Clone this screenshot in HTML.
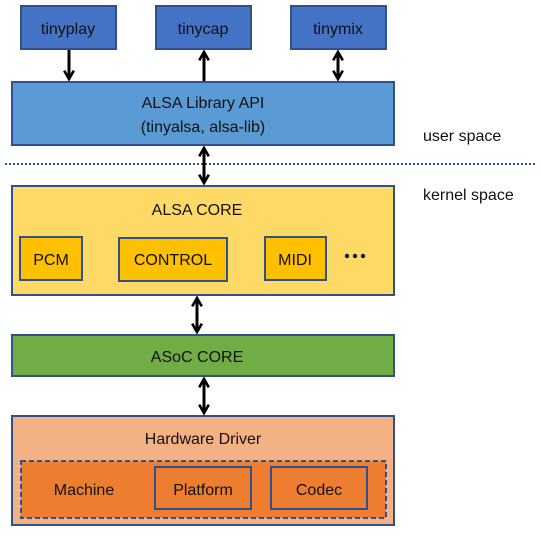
<!DOCTYPE html>
<html><head><meta charset="utf-8"><style>
body{margin:0;background:#fff;}
svg text{font-family:"Liberation Sans",sans-serif;font-size:16px;fill:#111;text-anchor:middle;}
</style></head><body>
<svg width="541" height="531" viewBox="0 0 541 531" xmlns="http://www.w3.org/2000/svg">
<defs>
<marker id="a" viewBox="0 0 10 10" refX="8" refY="5" markerWidth="4" markerHeight="4" orient="auto-start-reverse" markerUnits="strokeWidth">
<path d="M1,1 L8,5 L1,9" fill="none" stroke="#000" stroke-width="2.2"/></marker>
</defs>
<g stroke="#2F528F" stroke-width="2">
<rect x="21" y="6" width="95" height="43" fill="#4472C4"/>
<rect x="156" y="6" width="95" height="43" fill="#4472C4"/>
<rect x="291" y="6" width="95" height="43" fill="#4472C4"/>
<rect x="12" y="82" width="382" height="63" fill="#5B9BD5"/>
<rect x="12" y="186" width="382" height="109" fill="#FFD966"/>
<rect x="20" y="237" width="62" height="43" fill="#FFC000"/>
<rect x="119" y="238" width="108" height="43" fill="#FFC000"/>
<rect x="265" y="237" width="61" height="43" fill="#FFC000"/>
<rect x="12" y="335" width="382" height="41" fill="#70AD47"/>
<rect x="12" y="416" width="382" height="109" fill="#F4B183"/>
<rect x="21" y="461" width="365" height="57" fill="#ED7D31" stroke-dasharray="5,3"/>
<rect x="155" y="467" width="96" height="42" fill="#ED7D31"/>
<rect x="271" y="467" width="96" height="42" fill="#ED7D31"/>
</g>
<line x1="5" y1="164" x2="537" y2="164" stroke="#2F528F" stroke-width="2" stroke-dasharray="2,2"/>
<g stroke="#000" stroke-width="3" fill="none">
<line x1="69" y1="50" x2="69" y2="79" marker-end="url(#a)"/>
<line x1="204" y1="81" x2="204" y2="52" marker-end="url(#a)"/>
<line x1="338" y1="52" x2="338" y2="79" marker-start="url(#a)" marker-end="url(#a)"/>
<line x1="204" y1="148" x2="204" y2="183" marker-start="url(#a)" marker-end="url(#a)"/>
<line x1="197" y1="298" x2="197" y2="332" marker-start="url(#a)" marker-end="url(#a)"/>
<line x1="204" y1="379" x2="204" y2="413" marker-start="url(#a)" marker-end="url(#a)"/>
</g>
<g fill="#111"><circle cx="347" cy="256" r="2.2"/><circle cx="355" cy="256" r="2.2"/><circle cx="363" cy="256" r="2.2"/></g>
<text x="68" y="34">tinyplay</text>
<text x="203" y="34">tinycap</text>
<text x="338" y="34">tinymix</text>
<text x="203" y="108">ALSA Library API</text>
<text x="203" y="132">(tinyalsa, alsa-lib)</text>
<text x="197" y="215">ALSA CORE</text>
<text x="51" y="265">PCM</text>
<text x="173" y="265">CONTROL</text>
<text x="295" y="265">MIDI</text>
<text x="197" y="362">ASoC CORE</text>
<text x="203" y="444">Hardware Driver</text>
<text x="84" y="495">Machine</text>
<text x="203" y="495">Platform</text>
<text x="319" y="495">Codec</text>
<text x="423" y="141" style="text-anchor:start">user space</text>
<text x="423" y="200" style="text-anchor:start">kernel space</text>
</svg>
</body></html>
